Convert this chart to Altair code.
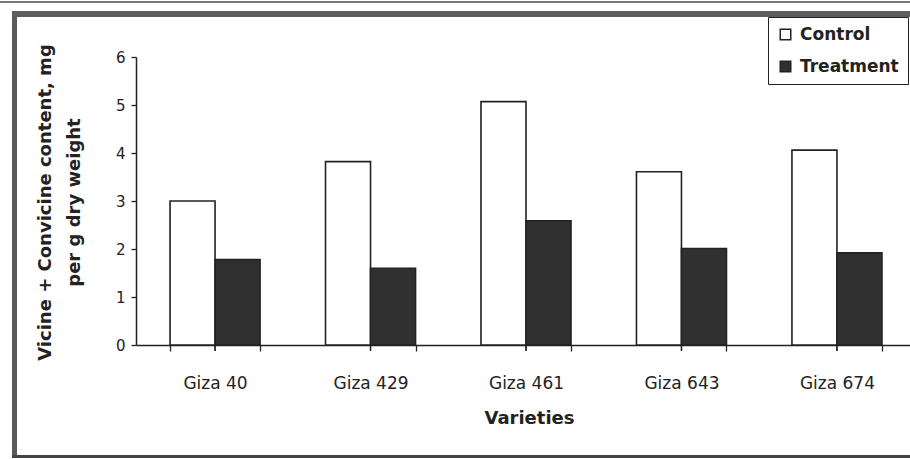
import altair as alt
import pandas as pd

varieties = ["Giza 40", "Giza 429", "Giza 461", "Giza 643", "Giza 674"]
control = [3.0, 3.82, 5.07, 3.61, 4.06]
treatment = [1.78, 1.60, 2.59, 2.01, 1.92]
series = ["Control", "Treatment"]
y_ticks = [0, 1, 2, 3, 4, 5, 6]
y_title = ["Vicine + Convicine content, mg", "per g dry weight"]
x_title = "Varieties"

rows = []
for v, c, t in zip(varieties, control, treatment):
    rows.append({"variety": v, "series": series[0], "value": c})
    rows.append({"variety": v, "series": series[1], "value": t})
df = pd.DataFrame(rows)
one = pd.DataFrame({"k": [0]})

W, H = 774, 288
L, T = 136, 57
FONT = "DejaVu Sans"
INK = "#222222"

xscale = alt.Scale(domain=varieties, range=[0, 780], paddingInner=0.421, paddingOuter=0.219)

bars = alt.Chart(df).mark_bar(stroke=INK, strokeWidth=1.6).encode(
    x=alt.X(
        "variety:N",
        scale=xscale,
        axis=alt.Axis(
            title=x_title, labelAngle=0, tickBand="extent", tickSize=6,
            labelPadding=24, labelFont=FONT, labelFontSize=17, labelColor=INK,
            titleFont=FONT, titleFontSize=18, titleFontWeight="bold", titleColor=INK,
            titleX=393, titleY=73, titleBaseline="middle", titleAlign="center",
            domainColor=INK, domainWidth=1.5, tickColor=INK, tickWidth=1.3,
        ),
    ),
    xOffset=alt.XOffset("series:N", scale=alt.Scale(domain=series, paddingInner=0, paddingOuter=0)),
    y=alt.Y(
        "value:Q",
        scale=alt.Scale(domain=[0, 6], nice=False),
        axis=alt.Axis(
            title=y_title, values=y_ticks, grid=False, tickSize=5, labelPadding=6,
            labelFont=FONT, labelFontSize=15, labelColor=INK,
            titleFont=FONT, titleFontSize=18, titleFontWeight="bold", titleColor=INK,
            titleAngle=270, titleX=-100, titleY=145, titleAlign="center", titleBaseline="top",
            titleLineHeight=29,
            domainColor=INK, domainWidth=1.5, tickColor=INK, tickWidth=1.3,
        ),
    ),
    fill=alt.Fill(
        "series:N",
        scale=alt.Scale(domain=series, range=["white", "#303030"]),
        legend=alt.Legend(
            title=None, orient="none", legendX=632, legendY=-40,
            strokeColor=INK, fillColor="white", padding=9,
            symbolType="square", symbolSize=110, symbolStrokeColor=INK, symbolStrokeWidth=1.5,
            labelFont=FONT, labelFontSize=17, labelFontWeight="bold", labelColor=INK,
            rowPadding=14, labelOffset=6,
        ),
    ),
)

center_ticks = alt.Chart(df).mark_rule(color=INK, strokeWidth=1.3).encode(
    x=alt.X("variety:N", scale=xscale),
    y=alt.value(H),
    y2=alt.value(H + 6),
)

left_band = alt.Chart(one).mark_rect(color="#5a5a5a").encode(
    x=alt.value(12 - L), x2=alt.value(17 - L), y=alt.value(11 - T), y2=alt.value(458 - T)
)
top_band = alt.Chart(one).mark_rect(color="#5e5e5e").encode(
    x=alt.value(12 - L), x2=alt.value(910 - L), y=alt.value(11 - T), y2=alt.value(17 - T)
)
bottom_band = alt.Chart(one).mark_rect(color="#444444").encode(
    x=alt.value(12 - L), x2=alt.value(910 - L), y=alt.value(455 - T), y2=alt.value(458 - T)
)
top_line = alt.Chart(one).mark_rule(color="#777777", strokeWidth=2).encode(
    x=alt.value(0 - L), x2=alt.value(910 - L), y=alt.value(2 - T)
)

chart = alt.layer(bars, center_ticks, left_band, top_band, bottom_band, top_line).properties(
    width=W, height=H,
    padding={"left": L, "top": T, "right": 0, "bottom": 459 - T - H},
    autosize=alt.AutoSizeParams(type="none"),
).configure(background="white").configure_view(stroke=None)

chart.save("out.html", embed_options={"renderer": "svg", "actions": False})
